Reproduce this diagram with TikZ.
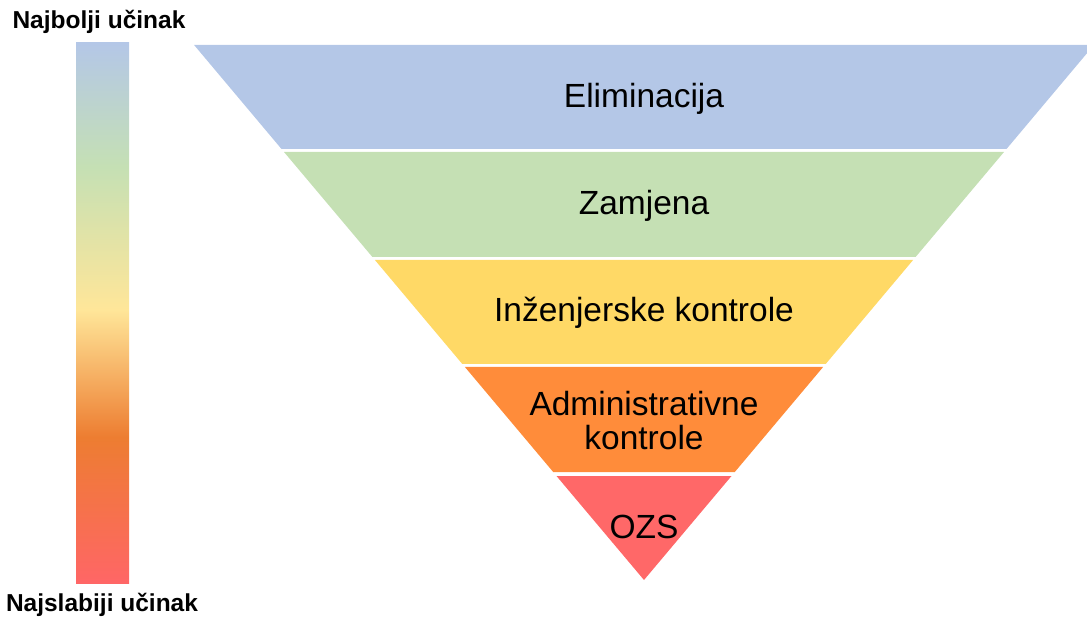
\documentclass[tikz,border=0pt]{standalone}
\usepackage{fontspec}
\setmainfont{Liberation Sans}
\usetikzlibrary{positioning}

\definecolor{elimblue}{RGB}{180,199,231}
\definecolor{zamgreen}{RGB}{197,224,180}
\definecolor{inzyellow}{RGB}{255,217,102}
\definecolor{admorange}{RGB}{255,140,58}
\definecolor{ozsred}{RGB}{255,104,104}
\definecolor{barblue}{RGB}{180,199,231}
\definecolor{bargreen}{RGB}{197,224,180}
\definecolor{baryellow}{RGB}{255,230,153}
\definecolor{barorange}{RGB}{237,125,49}
\definecolor{barred}{RGB}{255,102,102}

\pgfdeclareverticalshading{ucinak}{100bp}{color(0bp)=(barred); color(25bp)=(barred);
  color(38.5bp)=(barorange); color(50.3bp)=(baryellow); color(63.5bp)=(bargreen);
  color(75bp)=(barblue); color(100bp)=(barblue)}

\begin{document}
\begin{tikzpicture}[x=1pt, y=-1pt,
    bandtext/.style={font=\fontsize{33.5}{34}\selectfont, align=center},
    sidetext/.style={font=\fontsize{24.5}{26}\selectfont\bfseries}]
            \useasboundingbox (0,0) rectangle (1087,617);
            \clip (0,0) rectangle (1087,617);
            % gradient bar
            \shade[shading=ucinak] (76,43) rectangle (129,583);
            \node[sidetext] (best) at (99,22) {Najbolji učinak};
            \node[sidetext] (worst) at (102,605) {Najslabiji učinak};
            % inverted pyramid
            \fill[elimblue] (194.1,45) -- (1093.9,45) -- (1006.5,149) -- (281.5,149) -- cycle;
            \fill[zamgreen] (284,152) -- (1004,152) -- (915.6,257) -- (372.4,257) -- cycle;
            \fill[inzyellow] (374.9,260) -- (913.1,260) -- (825.7,364) -- (462.3,364) -- cycle;
            \fill[admorange] (464.9,367) -- (823.1,367) -- (734.8,472) -- (553.2,472) -- cycle;
            \fill[ozsred] (556.5,476) -- (731.5,476) -- (644,580) -- cycle;
            \node[bandtext] (elim) at (644,99) {Eliminacija};
            \node[bandtext] (zam) at (644,206) {Zamjena};
            \node[bandtext] (inz) at (644,313) {Inženjerske kontrole};
            \node[bandtext] (adm) at (644,421) {Administrativne\\kontrole};
            \node[bandtext] (ozs) at (644,527) {OZS};
        \end{tikzpicture}
\end{document}
